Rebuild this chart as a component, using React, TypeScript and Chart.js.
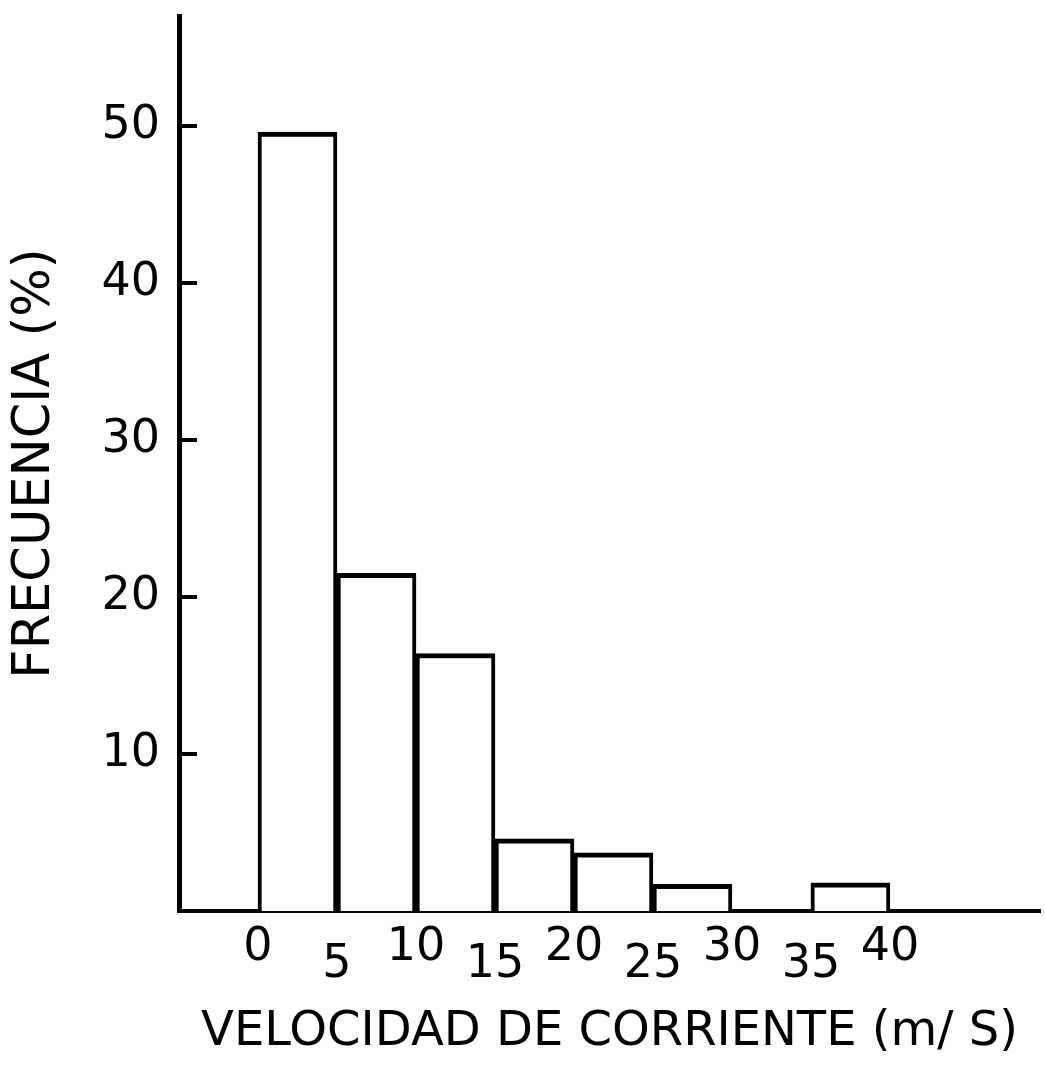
import { useEffect, useRef } from 'react';
import { Chart, registerables } from 'chart.js';

Chart.register(...registerables);

// Histogram bins (m/s) and frequency (%)
const binEdges = [0, 5, 10, 15, 20, 25, 30, 35, 40];
const frequencies = [49.6, 21.5, 16.4, 4.6, 3.7, 1.7, 0, 1.8];

// Axis ticks
const xTickValues = [0, 5, 10, 15, 20, 25, 30, 35, 40];
const xTickLabels = ['0', '5', '10', '15', '20', '25', '30', '35', '40'];
const yTickValues = [10, 20, 30, 40, 50];
const yTickLabels = ['10', '20', '30', '40', '50'];

const xTitle = 'VELOCIDAD DE CORRIENTE (m/ S)';
const yTitle = 'FRECUENCIA (%)';

const xMin = -5;
const xMax = 49.5;
const yMin = 0;
const yMax = 57;

const FONT = 'DejaVu Sans';

export default function App() {
  const canvasRef = useRef<HTMLCanvasElement | null>(null);

  useEffect(() => {
    if (!canvasRef.current) return;
    const points = frequencies.map((f, i) => ({
      x: (binEdges[i] + binEdges[i + 1]) / 2,
      y: f,
    }));
    const chart = new Chart(canvasRef.current, {
      type: 'bar',
      data: {
        datasets: [
          {
            data: points as any,
            backgroundColor: '#ffffff',
            borderColor: '#000000',
            borderWidth: { top: 5, left: 4, right: 4, bottom: 0 },
            borderSkipped: 'start',
            barPercentage: 1,
            categoryPercentage: 1,
          },
        ],
      },
      options: {
        animation: false,
        responsive: false,
        devicePixelRatio: 1,
        layout: { padding: { top: 16, right: 5, left: 0, bottom: 0 } },
        plugins: {
          legend: { display: false },
          tooltip: { enabled: false },
        },
        scales: {
          x: {
            type: 'linear',
            min: xMin,
            max: xMax,
            offset: false,
            afterBuildTicks: (s: any) => {
              s.ticks = xTickValues.map((v) => ({ value: v }));
            },
            afterFit: (s: any) => {
              s.height = 159;
              s.paddingLeft = 0;
              s.paddingRight = 0;
            },
            grid: { display: true, offset: false, drawOnChartArea: false, drawTicks: false },
            border: { display: true, color: '#000000', width: 4 },
            ticks: {
              autoSkip: false,
              maxRotation: 0,
              minRotation: 0,
              padding: 28,
              color: '#000000',
              font: { family: FONT, size: 46, weight: 'normal', lineHeight: 0.38 },
              callback: (_v: any, i: number) => (i % 2 ? ['', xTickLabels[i]] : xTickLabels[i]),
            },
            title: {
              display: true,
              text: xTitle,
              color: '#000000',
              font: { family: FONT, size: 48, lineHeight: 1.2 },
              padding: { top: 0, bottom: 9 },
            },
          },
          y: {
            type: 'linear',
            min: yMin,
            max: yMax,
            afterBuildTicks: (s: any) => {
              s.ticks = yTickValues.map((v) => ({ value: v }));
            },
            afterFit: (s: any) => {
              s.width = 179;
              s.paddingTop = 0;
              s.paddingBottom = 0;
            },
            grid: {
              display: true,
              drawOnChartArea: false,
              drawTicks: true,
              tickLength: -18,
              tickWidth: 4,
              tickColor: '#000000',
              color: '#000000',
              lineWidth: 4,
            },
            border: { display: true, color: '#000000', width: 5 },
            ticks: {
              padding: 37,
              color: '#000000',
              font: { family: FONT, size: 46, weight: 'normal' },
              callback: (_v: any, i: number) => yTickLabels[i],
            },
            title: {
              display: true,
              text: yTitle,
              color: '#000000',
              font: { family: FONT, size: 51, lineHeight: 1.2 },
              padding: { top: 5, bottom: 0 },
            },
          },
        },
      } as any,
    });
    return () => chart.destroy();
  }, []);

  return (
    <div style={{ position: 'absolute', left: 0, top: 0, width: 1045, height: 1070, background: '#fff' }}>
      <canvas ref={canvasRef} width={1045} height={1070} style={{ display: 'block', width: 1045, height: 1070 }} />
    </div>
  );
}
